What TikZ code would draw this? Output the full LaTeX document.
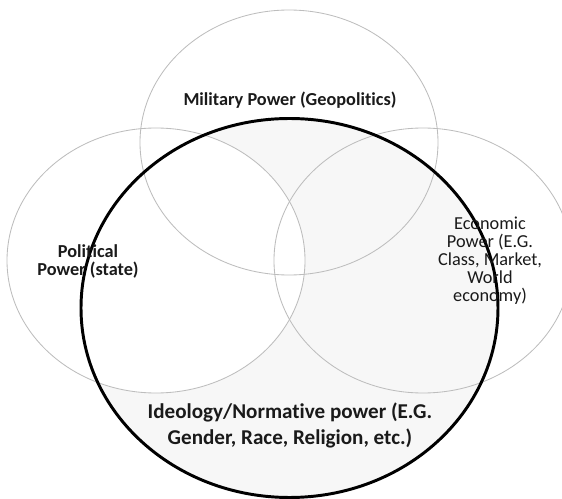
\documentclass[tikz,border=0pt]{standalone}
\usepackage{fontspec}
\setmainfont[RawFeature=-liga]{Carlito}
\definecolor{ringgray}{HTML}{BDBDBD}
\definecolor{shadegray}{HTML}{F7F7F7}
\definecolor{inkgray}{HTML}{1A1A1A}

\begin{document}
\begin{tikzpicture}[x=0.025cm, y=-0.025cm,
        ring/.style={draw=ringgray, line width=0.6pt},
        label/.style={text=inkgray, align=center, inner sep=0pt, font=\fontsize{13}{12.8}\selectfont}]
        \pgfmathsetmacro{\rxsmall}{149}
        \pgfmathsetmacro{\rysmall}{132.5}
        \pgfmathsetmacro{\rxbig}{208.5}
        \pgfmathsetmacro{\rybig}{189.5}

        \clip (0,0) rectangle (562,499);
        \fill[shadegray] (289.5,308) ellipse [x radius=\rxbig, y radius=\rybig];
        \fill[white] (156,260.5) ellipse [x radius=\rxsmall, y radius=\rysmall];

        \draw[ring] (289,142.5) ellipse [x radius=\rxsmall, y radius=\rysmall];
        \draw[ring] (156,260.5) ellipse [x radius=\rxsmall, y radius=\rysmall];
        \draw[ring] (423,260.5) ellipse [x radius=\rxsmall, y radius=\rysmall];
        \draw[line width=2.1pt] (289.5,308) ellipse [x radius=\rxbig, y radius=\rybig];

        \node[label, font=\bfseries\fontsize{13}{12.8}\selectfont] (military) at (290,100) {Military Power (Geopolitics)};
        \node[label, font=\bfseries\fontsize{13}{12.8}\selectfont] (political) at (88,261) {Political\\Power (state)};
        \node[label] (economic) at (490,260.5) {Economic\\Power (E.G.\\Class, Market,\\World\\economy)};
        \node[label, font=\bfseries\fontsize{15}{18.5}\selectfont] (ideology) at (290,425) {Ideology/Normative power (E.G.\\Gender, Race, Religion, etc.)};
    \end{tikzpicture}
\end{document}
